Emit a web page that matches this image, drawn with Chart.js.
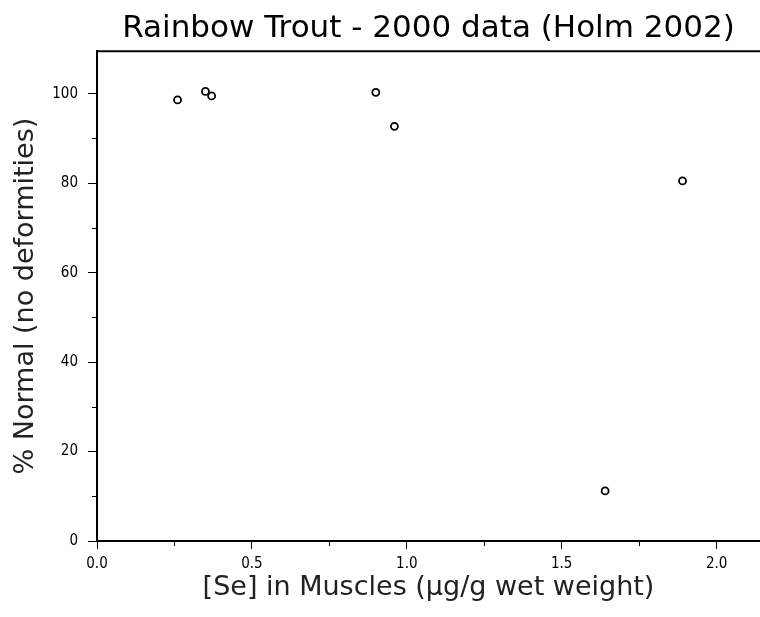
<!DOCTYPE html>
<html>
<head>
<meta charset="utf-8">
<script src="https://cdn.jsdelivr.net/npm/chart.js@4.4.1/dist/chart.umd.min.js"></script>
<style>
    html, body { margin: 0; padding: 0; background: #fff; }
    #wrap { width: 760px; height: 617px; }
</style>
</head>
<body>
<div id="wrap"><canvas id="chart"></canvas></div>
<script>
// Valeurs
const seMuscle = [0.26, 0.35, 0.37, 0.90, 0.96, 1.64, 1.89];
const pctNormal = [98.6, 100.5, 99.5, 100.3, 92.7, 11.2, 80.5];

const xTickLabels = ['0.0', '0.5', '1.0', '1.5', '2.0'];
const xMinorTicks = [0.25, 0.75, 1.25, 1.75];
const yTickLabels = ['0', '20', '40', '60', '80', '100'];
const yMinorTicks = [10, 30, 50, 70, 90];

const tickFont = { family: "'DejaVu Sans Condensed', 'Liberation Sans Narrow', 'DejaVu Sans', sans-serif", size: 15 };
const titleFont = { family: "'DejaVu Sans', sans-serif", size: 27 };

// Ligne du haut + petites graduations
const frame = {
    id: 'frame',
    afterDraw(chart) {
        const { ctx, chartArea, scales } = chart;
        ctx.save();
        ctx.strokeStyle = '#000';
        ctx.lineWidth = 2;
        ctx.beginPath();
        ctx.moveTo(chartArea.left - 1, chartArea.top);
        ctx.lineTo(chart.width, chartArea.top);
        ctx.stroke();

        ctx.lineWidth = 1;
        ctx.beginPath();
        xMinorTicks.forEach(v => {
            const px = Math.round(scales.x.getPixelForValue(v)) + 0.5;
            ctx.moveTo(px, chartArea.bottom);
            ctx.lineTo(px, chartArea.bottom + 5);
        });
        yMinorTicks.forEach(v => {
            const py = Math.round(scales.y.getPixelForValue(v)) + 0.5;
            ctx.moveTo(chartArea.left, py);
            ctx.lineTo(chartArea.left - 5, py);
        });
        ctx.stroke();
        ctx.restore();
    }
};

const data = {
    datasets: [{
        label: 'Rainbow Trout',
        data: seMuscle.map((x, i) => ({ x: x, y: pctNormal[i] })),
        pointStyle: 'circle',
        pointRadius: 3.5,
        pointBorderWidth: 1.8,
        pointBorderColor: '#000',
        pointBackgroundColor: '#fff',
        showLine: false
    }]
};

const config = {
    type: 'scatter',
    data: data,
    options: {
        responsive: true,
        maintainAspectRatio: false,
        animation: false,
        layout: { padding: 0, autoPadding: false },
        plugins: {
            legend: { display: false },
            tooltip: { enabled: false },
            title: {
                display: true,
                text: 'Rainbow Trout - 2000 data (Holm 2002)',
                fullSize: false,
                color: '#000',
                font: { family: "'DejaVu Sans', sans-serif", size: 31, weight: 'normal', lineHeight: 1.2 },
                padding: { top: 10, bottom: 4 }
            }
        },
        scales: {
            x: {
                type: 'linear',
                min: 0,
                max: 2.14,
                afterFit(scale) {
                    scale.height = 76;
                    scale.paddingRight = 0;
                },
                ticks: {
                    stepSize: 0.5,
                    includeBounds: false,
                    color: '#000',
                    font: tickFont,
                    padding: 6,
                    maxRotation: 0,
                    callback: (value, index) => xTickLabels[index]
                },
                grid: {
                    drawOnChartArea: false,
                    drawTicks: true,
                    tickLength: 8,
                    tickWidth: 1,
                    tickColor: '#000'
                },
                border: { display: true, color: '#000', width: 2 },
                title: {
                    display: true,
                    text: '[Se] in Muscles (µg/g wet weight)',
                    color: '#222',
                    font: titleFont,
                    padding: { top: 0, bottom: 13 }
                }
            },
            y: {
                type: 'linear',
                min: 0,
                max: 109.5,
                afterFit(scale) { scale.width = 97; },
                ticks: {
                    stepSize: 20,
                    includeBounds: false,
                    color: '#000',
                    font: tickFont,
                    padding: 10,
                    callback: (value, index) => yTickLabels[index]
                },
                grid: {
                    drawOnChartArea: false,
                    drawTicks: true,
                    tickLength: 9,
                    tickWidth: 1,
                    tickColor: '#000'
                },
                border: { display: true, color: '#000', width: 2 },
                title: {
                    display: true,
                    text: '% Normal (no deformities)',
                    color: '#222',
                    font: titleFont,
                    padding: { top: 10, bottom: 0 }
                }
            }
        }
    },
    plugins: [frame]
};

new Chart(document.getElementById('chart'), config);
</script>
</body>
</html>
